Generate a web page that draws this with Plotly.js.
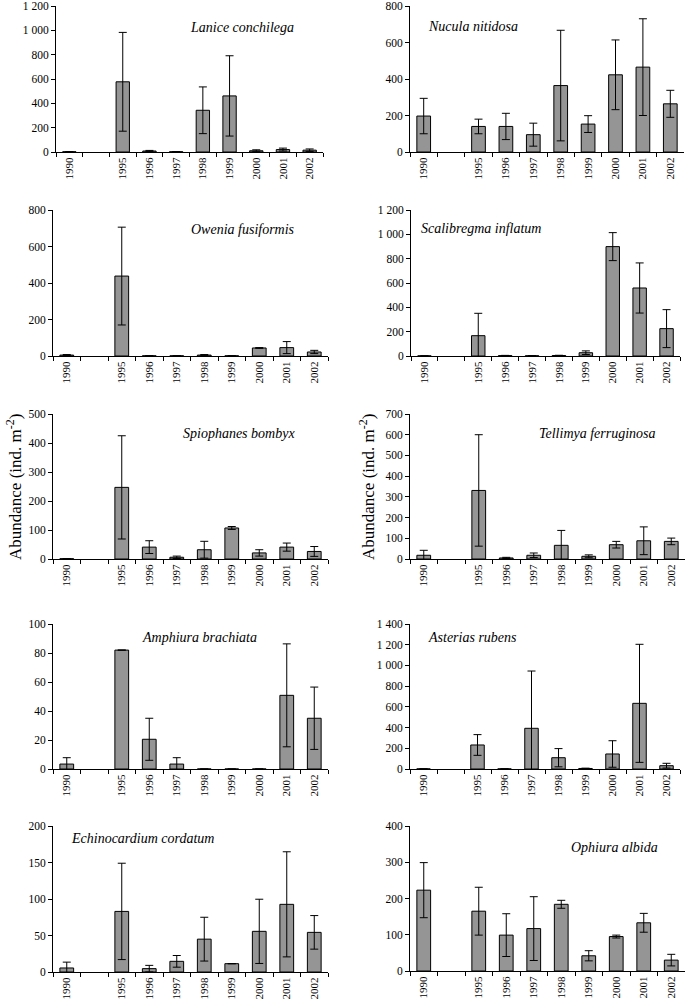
<!DOCTYPE html>
<html>
<head>
<meta charset="utf-8">
<script src="https://cdn.plot.ly/plotly-3.0.1.min.js"></script>
<style>
html,body{margin:0;padding:0;background:#fff;}
#chart{width:685px;height:1002px;}
</style>
</head>
<body>
<div id="chart"></div>
<script>
// ---- data ----
const years = ['1990','1995','1996','1997','1998','1999','2000','2001','2002'];
const axisSlots = ['1990',' ','1995','1996','1997','1998','1999','2000','2001','2002'];

const laniceMean = [2, 577, 8, 2, 343, 461, 10, 20, 15];
const laniceSd   = [0, 406, 5, 0, 192, 330, 8, 12, 10];

const nuculaMean = [197, 140, 140, 95, 364, 153, 423, 465, 264];
const nuculaSd   = [97, 40, 72, 63, 303, 46, 191, 265, 74];

const oweniaMean = [5, 438, 1, 1, 5, 1, 44, 46, 22];
const oweniaSd   = [3, 268, 0, 0, 3, 0, 2, 33, 9];

const scalibregmaMean = [1, 167, 3, 2, 4, 27, 899, 559, 225];
const scalibregmaSd   = [0, 184, 2, 0, 2, 15, 115, 206, 156];

const spiophanesMean = [1, 247, 41, 6, 32, 107, 21, 41, 26];
const spiophanesSd   = [0, 178, 22, 4, 29, 5, 11, 14, 17];

const tellimyaMean = [18, 331, 5, 18, 66, 13, 69, 88, 85];
const tellimyaSd   = [24, 269, 3, 11, 72, 7, 16, 67, 16];

const amphiuraMean = [3.4, 82, 20.5, 3.4, 0, 0, 0, 50.8, 35];
const amphiuraSd   = [4.4, 0, 14.5, 4.4, 0, 0, 0, 35.5, 21.5];

const asteriasMean = [1, 232, 1, 393, 109, 5, 145, 634, 32];
const asteriasSd   = [0, 100, 0, 553, 88, 3, 128, 570, 23];

const echinoMean = [5.5, 83, 4.6, 14.6, 45, 11.4, 55.7, 92.7, 54.3];
const echinoSd   = [8, 66, 4.5, 8, 30, 0, 44, 72, 23];

const ophiuraMean = [223, 165, 99, 117, 184, 42, 95, 133, 30];
const ophiuraSd   = [76, 66, 59, 88, 11, 14, 4, 26, 16];

const speciesNames = ['Lanice conchilega','Nucula nitidosa','Owenia fusiformis','Scalibregma inflatum',
  'Spiophanes bombyx','Tellimya ferruginosa','Amphiura brachiata','Asterias rubens',
  'Echinocardium cordatum','Ophiura albida'];
const yMax  = [1200, 800, 800, 1200, 500, 700, 100, 1400, 200, 400];
const yStep = [200, 200, 200, 200, 100, 100, 20, 200, 50, 100];
const yTitle = 'Abundance (ind. m<sup>-2</sup>)';

// ---- layout (pixel boxes of each panel) ----
const W = 685, H = 1002;
const boxes = [
  [56, 323, 6, 152], [410, 684, 6, 152],
  [53, 328, 210, 356], [411, 680, 210, 356],
  [53, 328, 414, 559], [410, 685, 414, 559],
  [53, 328, 624, 769], [410, 680, 624, 769],
  [53, 328, 826, 972], [410, 685, 826, 971]
];
const titlePos = [
  [242, 27], [473, 26], [243, 230], [481, 228], [239, 433],
  [597, 433], [200, 637], [472, 637], [142, 838], [614, 847]
];

const means = [laniceMean, nuculaMean, oweniaMean, scalibregmaMean, spiophanesMean,
  tellimyaMean, amphiuraMean, asteriasMean, echinoMean, ophiuraMean];
const sds = [laniceSd, nuculaSd, oweniaSd, scalibregmaSd, spiophanesSd,
  tellimyaSd, amphiuraSd, asteriasSd, echinoSd, ophiuraSd];

const FONT = 'Liberation Serif, Times New Roman, serif';
const traces = [];
const layout = {
  width: W, height: H,
  margin: {l: 0, r: 0, t: 0, b: 0},
  paper_bgcolor: '#fff', plot_bgcolor: 'rgba(0,0,0,0)',
  showlegend: false,
  separators: '. ',
  bargap: 0.5,
  font: {family: FONT, size: 11, color: '#000'},
  annotations: []
};

for (let i = 0; i < 10; i++) {
  const n = i === 0 ? '' : String(i + 1);
  traces.push({
    type: 'bar',
    x: years,
    y: means[i],
    xaxis: 'x' + n, yaxis: 'y' + n,
    marker: {color: '#959595', line: {color: '#000', width: 1}},
    error_y: {type: 'data', array: sds[i], visible: true, color: '#000', thickness: 1, width: 4},
    hoverinfo: 'x+y'
  });
  const b = boxes[i];
  layout['xaxis' + n] = {
    domain: [b[0] / W, b[1] / W],
    anchor: 'y' + n,
    type: 'category',
    categoryorder: 'array',
    categoryarray: axisSlots,
    range: [-0.5, 9.5],
    tickson: 'boundaries',
    ticks: 'outside', ticklen: 4, tickwidth: 1, tickcolor: '#000',
    showline: true, linecolor: '#000', linewidth: 1,
    showgrid: false, zeroline: false,
    tickangle: -90,
    ticklabeloverflow: 'allow',
    tickfont: {family: FONT, size: 11, color: '#000'},
    fixedrange: true
  };
  layout['yaxis' + n] = {
    domain: [1 - b[3] / H, 1 - b[2] / H],
    anchor: 'x' + n,
    range: [0, yMax[i]],
    dtick: yStep[i], tick0: 0,
    ticks: 'outside', ticklen: 4, tickwidth: 1, tickcolor: '#000',
    showline: true, linecolor: '#000', linewidth: 1,
    showgrid: false, zeroline: false,
    separatethousands: true,
    ticklabeloverflow: 'allow',
    tickfont: {family: FONT, size: 11.5, color: '#000'},
    fixedrange: true
  };
  layout.annotations.push({
    text: speciesNames[i],
    xref: 'paper', yref: 'paper',
    x: titlePos[i][0] / W, y: 1 - titlePos[i][1] / H,
    xanchor: 'center', yanchor: 'middle',
    showarrow: false,
    font: {family: FONT, size: 14, color: '#000', style: 'italic'}
  });
}
// y-axis titles of the middle row
[[14, 487], [367, 487]].forEach(p => {
  layout.annotations.push({
    text: yTitle,
    xref: 'paper', yref: 'paper',
    x: p[0] / W, y: 1 - p[1] / H,
    xanchor: 'center', yanchor: 'middle',
    textangle: -90, showarrow: false,
    font: {family: FONT, size: 17, color: '#000'}
  });
});

Plotly.newPlot('chart', traces, layout, {staticPlot: true, displayModeBar: false});
</script>
</body>
</html>
